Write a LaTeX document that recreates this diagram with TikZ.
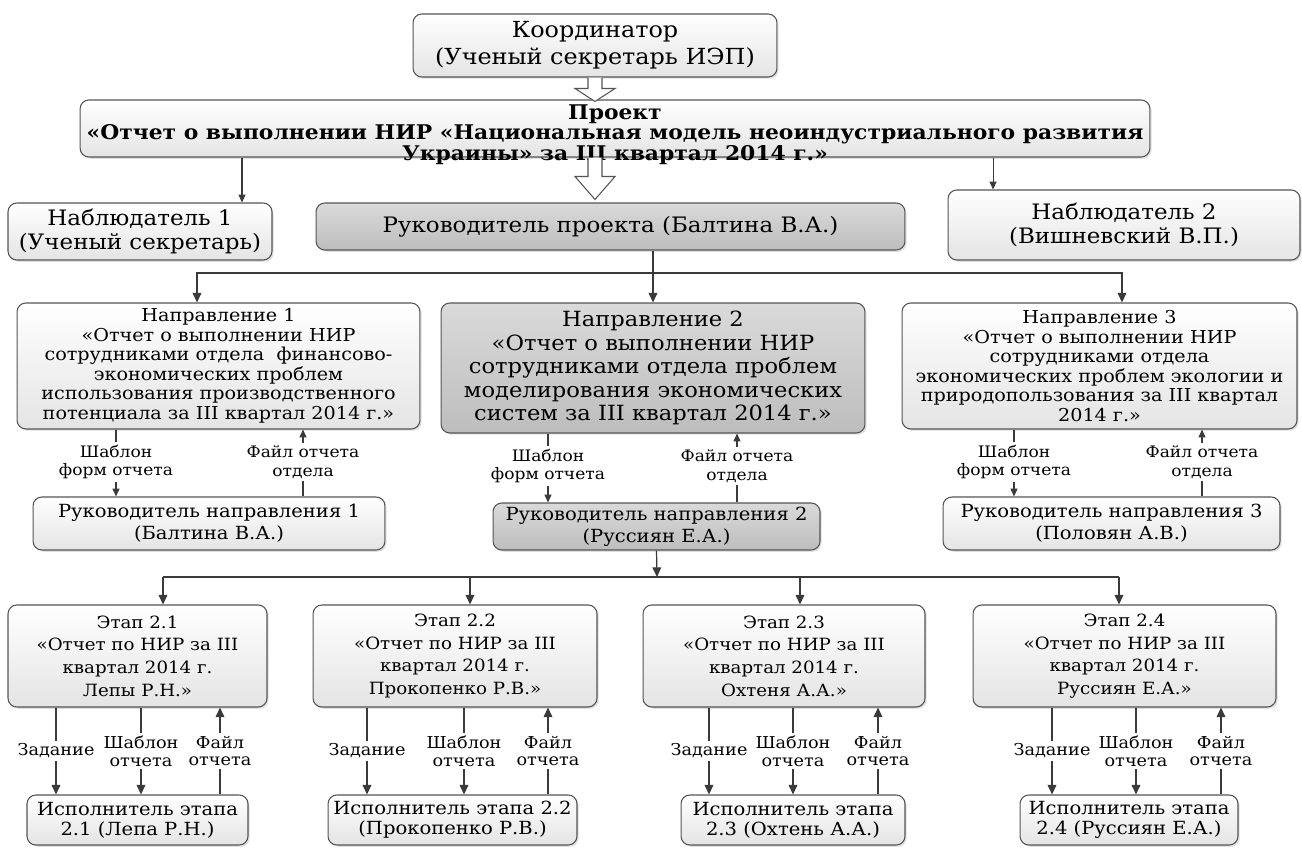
\documentclass[tikz,border=0pt]{standalone}
\usepackage{fontspec}
\setmainfont{DejaVu Serif}[FakeStretch=1.08]
\usepackage{tikz}
\usetikzlibrary{positioning, arrows.meta, calc, shadows}
\definecolor{bxline}{HTML}{555555}
\definecolor{bxlight}{HTML}{E4E4E4}
\definecolor{bxgraytop}{HTML}{DADADA}
\definecolor{bxgraybot}{HTML}{BDBDBD}
\definecolor{cnline}{HTML}{3A3A3A}

\begin{document}
\begin{tikzpicture}[
  x=0.02cm, y=-0.02cm,
  box/.style={
    rectangle, rounded corners=5pt, draw=bxline, line width=0.6pt,
    top color=white, bottom color=bxlight, align=center, inner sep=1pt,
    drop shadow={opacity=0.25, shadow xshift=1pt, shadow yshift=-1pt}
  },
  graybox/.style={box, top color=bxgraytop, bottom color=bxgraybot},
  hollow/.style={draw=bxline, fill=white, line width=0.6pt, line join=miter},
  arr/.style={-{Triangle[length=5.5pt, width=5pt]}, line width=0.7pt, color=cnline},
  sarr/.style={-{Triangle[length=4.5pt, width=4pt]}, line width=0.6pt, color=cnline},
  cn/.style={line width=0.7pt, color=cnline},
  dlbl/.style={font=\fontsize{9}{10.5}\selectfont, align=center, inner sep=1.5pt},
  slbl/.style={font=\fontsize{9.3}{10.2}\selectfont, align=center, inner sep=1.5pt},
]
\useasboundingbox (0,0) rectangle (1302,848);

% Top level
\node[box, minimum width=7.28cm, minimum height=1.26cm, font=\fontsize{12.6}{15.5}\selectfont]
  (coord) at (595,45.5) {Координатор\\(Ученый секретарь ИЭП)};
\node[box, minimum width=21.4cm, minimum height=1.14cm] (proj) at (615,128.5) {};
\node[align=center, inner sep=0pt, font=\bfseries\fontsize{11.5}{11.6}\selectfont]
  (projtext) at ([yshift=-0.12cm]proj.center)
  {Проект\\«Отчет о выполнении НИР «Национальная модель неоиндустриального развития\\Украины» за III квартал 2014 г.»};
\node[graybox, minimum width=11.78cm, minimum height=0.94cm, font=\fontsize{12.1}{14}\selectfont]
  (rukproj) at (610.5,226.5) {Руководитель проекта (Балтина В.А.)};
\node[box, minimum width=5.28cm, minimum height=1.14cm, font=\fontsize{12.1}{14}\selectfont]
  (nab1) at (140,231.5) {Наблюдатель 1\\(Ученый секретарь)};
\node[box, minimum width=7.04cm, minimum height=1.4cm, font=\fontsize{12.1}{14}\selectfont]
  (nab2) at (1124,225) {Наблюдатель 2\\(Вишневский В.П.)};

% Hollow arrows
\draw[hollow] ($(coord.south)+(-7,0)$) -- ($(coord.south)+(-7,11)$) -- ($(coord.south)+(-20,11)$)
  -- ($(coord.south |- proj.north)+(0,2)$) -- ($(coord.south)+(20,11)$) -- ($(coord.south)+(7,11)$)
  -- ($(coord.south)+(7,0)$);
\draw[hollow] ($(coord.south |- proj.south)+(-7,0)$) -- ($(coord.south |- proj.south)+(-7,19)$)
  -- ($(coord.south |- proj.south)+(-20,19)$) -- ($(coord.south |- rukproj.north)+(0,-3)$)
  -- ($(coord.south |- proj.south)+(20,19)$) -- ($(coord.south |- proj.south)+(7,19)$)
  -- ($(coord.south |- proj.south)+(7,0)$);

\draw[sarr] ([xshift=2.04cm]nab1.north |- proj.south) -- ([xshift=2.04cm]nab1.north);
\draw[sarr] ([xshift=-2.62cm]nab2.north |- proj.south) -- ([xshift=-2.62cm]nab2.north);

% Directions
\node[box, minimum width=8.06cm, minimum height=2.52cm, font=\fontsize{10.1}{11.1}\selectfont]
  (dir1) at (218.5,366) {Направление 1\\«Отчет о выполнении НИР\\сотрудниками отдела \ финансово-\\экономических проблем\\использования производственного\\потенциала за III квартал 2014 г.»};
\node[graybox, minimum width=8.48cm, minimum height=2.6cm, font=\fontsize{11.9}{13.4}\selectfont]
  (dir2) at (653,368) {Направление 2\\«Отчет о выполнении НИР\\сотрудниками отдела проблем\\моделирования экономических\\систем за III квартал 2014 г.»};
\node[box, minimum width=7.9cm, minimum height=2.52cm, font=\fontsize{10.1}{11.1}\selectfont]
  (dir3) at (1099.5,366) {Направление 3\\«Отчет о выполнении НИР\\сотрудниками отдела\\экономических проблем экологии и\\природопользования за III квартал\\2014 г.»};

\coordinate (fork1) at (653,273);
\draw[arr] (dir2.north |- rukproj.south) -- (dir2.north);
\draw[arr] (fork1) -| ([xshift=-0.43cm]dir1.north);
\draw[arr] (fork1) -| ([xshift=0.45cm]dir3.north);

% Direction leaders
\node[box, minimum width=7.04cm, minimum height=1.06cm, font=\fontsize{10.3}{12.5}\selectfont]
  (rn1) at (209,523.5) {Руководитель направления 1\\(Балтина В.А.)};
\node[graybox, minimum width=6.54cm, minimum height=0.94cm, font=\fontsize{10.3}{12.5}\selectfont]
  (rn2) at (656.5,526.5) {Руководитель направления 2\\(Руссиян Е.А.)};
\node[box, minimum width=6.74cm, minimum height=1.06cm, font=\fontsize{10.3}{12.5}\selectfont]
  (rn3) at (1111.5,523.5) {Руководитель направления 3\\(Половян А.В.)};

\node[dlbl] (tp1) at (116,462) {Шаблон\\форм отчета};
\node[dlbl] (fo1) at (303,462) {Файл отчета\\отдела};
\node[dlbl] (tp2) at (548,466) {Шаблон\\форм отчета};
\node[dlbl] (fo2) at (737,466) {Файл отчета\\отдела};
\node[dlbl] (tp3) at (1014,462) {Шаблон\\форм отчета};
\node[dlbl] (fo3) at (1202,462) {Файл отчета\\отдела};

\draw[cn] (dir1.south -| tp1) -- (tp1);
\draw[sarr] (tp1) -- (tp1 |- rn1.north);
\draw[sarr] (fo1) -- (fo1 |- dir1.south);
\draw[cn] (rn1.north -| fo1) -- (fo1);
\draw[cn] (dir2.south -| tp2) -- (tp2);
\draw[sarr] (tp2) -- (tp2 |- rn2.north);
\draw[sarr] (fo2) -- (fo2 |- dir2.south);
\draw[cn] (rn2.north -| fo2) -- (fo2);
\draw[cn] (dir3.south -| tp3) -- (tp3);
\draw[sarr] (tp3) -- (tp3 |- rn3.north);
\draw[sarr] (fo3) -- (fo3 |- dir3.south);
\draw[cn] (rn3.north -| fo3) -- (fo3);

% Stages
\node[box, minimum width=5.18cm, minimum height=2.04cm, font=\fontsize{9.6}{12.9}\selectfont]
  (etap21) at (137.5,656) {Этап 2.1\\«Отчет по НИР за III\\квартал 2014 г.\\Лепы Р.Н.»};
\node[box, minimum width=5.68cm, minimum height=2.04cm, font=\fontsize{9.6}{12.9}\selectfont]
  (etap22) at (455,656) {Этап 2.2\\«Отчет по НИР за III\\квартал 2014 г.\\Прокопенко Р.В.»};
\node[box, minimum width=5.64cm, minimum height=2.04cm, font=\fontsize{9.6}{12.9}\selectfont]
  (etap23) at (784,656) {Этап 2.3\\«Отчет по НИР за III\\квартал 2014 г.\\Охтеня А.А.»};
\node[box, minimum width=6.06cm, minimum height=2.04cm, font=\fontsize{9.6}{12.9}\selectfont]
  (etap24) at (1124.5,656) {Этап 2.4\\«Отчет по НИР за III\\квартал 2014 г.\\Руссиян Е.А.»};

\coordinate (fork2) at (657,577);
\draw[arr] (rn2.south) -- (fork2);
\draw[cn] ([xshift=0.51cm]etap21.north |- fork2) -- ([xshift=-0.11cm]etap24.north |- fork2);
\draw[arr] ([xshift=0.51cm]etap21.north |- fork2) -- ([xshift=0.51cm]etap21.north);
\draw[arr] ([xshift=0.3cm]etap22.north |- fork2) -- ([xshift=0.3cm]etap22.north);
\draw[arr] ([xshift=0.32cm]etap23.north |- fork2) -- ([xshift=0.32cm]etap23.north);
\draw[arr] ([xshift=-0.11cm]etap24.north |- fork2) -- ([xshift=-0.11cm]etap24.north);

% Executors
\node[box, minimum width=4.42cm, minimum height=1.0cm, font=\fontsize{10.3}{11.4}\selectfont]
  (isp21) at (137.5,820) {Исполнитель этапа\\2.1 (Лепа Р.Н.)};
\node[box, minimum width=4.98cm, minimum height=1.0cm, font=\fontsize{10.3}{11.4}\selectfont]
  (isp22) at (452.5,820) {Исполнитель этапа 2.2\\(Прокопенко Р.В.)};
\node[box, minimum width=4.48cm, minimum height=1.0cm, font=\fontsize{10.3}{11.4}\selectfont]
  (isp23) at (793,820) {Исполнитель этапа\\2.3 (Охтень А.А.)};
\node[box, minimum width=4.36cm, minimum height=1.0cm, font=\fontsize{10.3}{11.4}\selectfont]
  (isp24) at (1129,820) {Исполнитель этапа\\2.4 (Руссиян Е.А.)};

\node[slbl] (zd21) at (56,751) {Задание};
\node[slbl] (sh21) at (141,751) {Шаблон\\отчета};
\node[slbl] (fl21) at (220,751) {Файл\\отчета};
\node[slbl] (zd22) at (367,751) {Задание};
\node[slbl] (sh22) at (464,751) {Шаблон\\отчета};
\node[slbl] (fl22) at (548,751) {Файл\\отчета};
\node[slbl] (zd23) at (709,751) {Задание};
\node[slbl] (sh23) at (793,751) {Шаблон\\отчета};
\node[slbl] (fl23) at (878,751) {Файл\\отчета};
\node[slbl] (zd24) at (1052,751) {Задание};
\node[slbl] (sh24) at (1136,751) {Шаблон\\отчета};
\node[slbl] (fl24) at (1221,751) {Файл\\отчета};

\draw[cn] (etap21.south -| zd21) -- (zd21);
\draw[arr] (zd21) -- (zd21 |- isp21.north);
\draw[cn] (etap21.south -| sh21) -- (sh21);
\draw[arr] (sh21) -- (sh21 |- isp21.north);
\draw[arr] (fl21) -- (fl21 |- etap21.south);
\draw[cn] (isp21.north -| fl21) -- (fl21);

\draw[cn] (etap22.south -| zd22) -- (zd22);
\draw[arr] (zd22) -- (zd22 |- isp22.north);
\draw[cn] (etap22.south -| sh22) -- (sh22);
\draw[arr] (sh22) -- (sh22 |- isp22.north);
\draw[arr] (fl22) -- (fl22 |- etap22.south);
\draw[cn] (isp22.north -| fl22) -- (fl22);

\draw[cn] (etap23.south -| zd23) -- (zd23);
\draw[arr] (zd23) -- (zd23 |- isp23.north);
\draw[cn] (etap23.south -| sh23) -- (sh23);
\draw[arr] (sh23) -- (sh23 |- isp23.north);
\draw[arr] (fl23) -- (fl23 |- etap23.south);
\draw[cn] (isp23.north -| fl23) -- (fl23);

\draw[cn] (etap24.south -| zd24) -- (zd24);
\draw[arr] (zd24) -- (zd24 |- isp24.north);
\draw[cn] (etap24.south -| sh24) -- (sh24);
\draw[arr] (sh24) -- (sh24 |- isp24.north);
\draw[arr] (fl24) -- (fl24 |- etap24.south);
\draw[cn] (isp24.north -| fl24) -- (fl24);

\end{tikzpicture}
\end{document}
